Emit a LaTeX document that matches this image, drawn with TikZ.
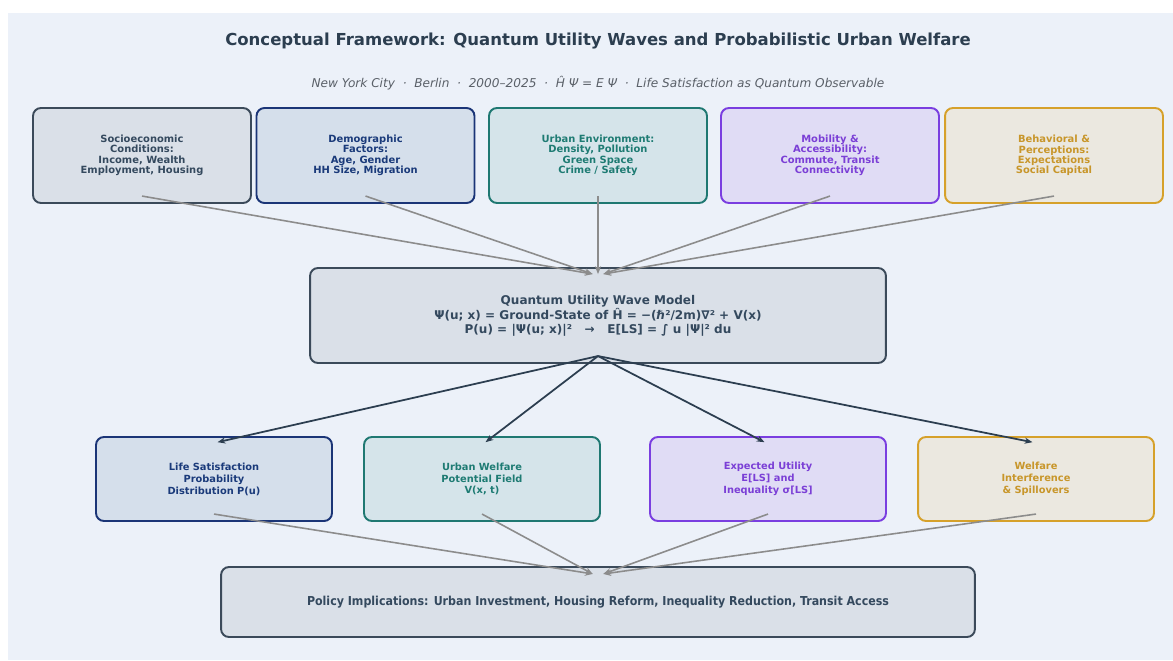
\documentclass[tikz,border=0pt]{standalone}
\usepackage{fontspec}
\setmainfont{DejaVu Sans}
\newfontfamily\condfont{DejaVu Sans Condensed}
\usetikzlibrary{arrows.meta,positioning}
\definecolor{bgblue}{HTML}{ECF1F9}
\definecolor{titlecol}{HTML}{2C3E50}
\definecolor{subcol}{HTML}{5A6068}
\definecolor{slateline}{HTML}{3B4A5A}
\definecolor{slatefill}{HTML}{DAE0E8}
\definecolor{slatetext}{HTML}{34495E}
\definecolor{navyline}{HTML}{1B3577}
\definecolor{navyfill}{HTML}{D5DFEB}
\definecolor{navytext}{HTML}{1A3A7A}
\definecolor{tealline}{HTML}{1F7872}
\definecolor{tealfill}{HTML}{D5E4EA}
\definecolor{tealtext}{HTML}{1E7B73}
\definecolor{purpline}{HTML}{7A3EE0}
\definecolor{purpfill}{HTML}{E0DCF5}
\definecolor{purptext}{HTML}{7B3FD6}
\definecolor{goldline}{HTML}{D6A12B}
\definecolor{goldfill}{HTML}{EBE8E0}
\definecolor{goldtext}{HTML}{C8962A}
\definecolor{flowgray}{HTML}{8C8C8C}
\definecolor{flowdark}{HTML}{2C3E50}
\tikzset{%
    factor/.style n args={3}{%
        rectangle, rounded corners=4.5pt, draw=#1, fill=#2, text=#3, line width=1.1pt,
        minimum width=4.36cm, minimum height=1.9cm, align=center,
        font=\bfseries\fontsize{5.65}{5.95}\selectfont
    },
    outcome/.style n args={3}{%
        factor={#1}{#2}{#3}, minimum width=4.72cm, minimum height=1.68cm,
        font=\bfseries\fontsize{5.6}{6.8}\selectfont
    },
    model/.style={%
        rectangle, rounded corners=4.5pt, draw=slateline, fill=slatefill, text=slatetext, line width=1.1pt,
        minimum width=11.52cm, minimum height=1.9cm, align=center,
        font=\bfseries\fontsize{6.85}{7.6}\selectfont
    },
    policy/.style={%
        rectangle, rounded corners=4.5pt, draw=slateline, fill=slatefill, text=slatetext, line width=1.1pt,
        minimum width=15.08cm, minimum height=1.4cm, align=center,
        font=\condfont\bfseries\fontsize{7}{8}\selectfont
    },
    inflow/.style={%
        draw=flowgray, line width=0.9pt, -{Stealth[length=4.5pt,width=3.5pt]}
    },
    outflow/.style={%
        draw=flowdark, line width=1pt, -{Stealth[length=4.5pt,width=3.5pt]}
    },
}
\begin{document}
\begin{tikzpicture}[x=0.02cm,y=-0.02cm]
    \useasboundingbox (0,0) rectangle (1173,660);
    \fill[bgblue] (8,13) rectangle (1173,660);

    % title
    \node[text=titlecol, font=\bfseries\fontsize{9.4}{11}\selectfont] (title) at (598,41)
        {Conceptual Framework: Quantum Utility Waves and Probabilistic Urban Welfare};
    \node[text=subcol, font=\itshape\fontsize{6.9}{8}\selectfont] (subtitle) at (598,83)
        {New York City \ · \ Berlin \ · \ 2000–2025 \ · \ Ĥ Ψ = E Ψ \ · \ Life Satisfaction as Quantum Observable};

    % drivers
    \node[factor={slateline}{slatefill}{slatetext}] (socio) at (142,155.5)
        {Socioeconomic\\Conditions:\\Income, Wealth\\Employment, Housing};
    \node[factor={navyline}{navyfill}{navytext}] (demo) at (365.5,155.5)
        {Demographic\\Factors:\\Age, Gender\\HH Size, Migration};
    \node[factor={tealline}{tealfill}{tealtext}] (urbenv) at (598,155.5)
        {Urban Environment:\\Density, Pollution\\Green Space\\Crime / Safety};
    \node[factor={purpline}{purpfill}{purptext}] (mobility) at (830,155.5)
        {Mobility \&\\Accessibility:\\Commute, Transit\\Connectivity};
    \node[factor={goldline}{goldfill}{goldtext}] (behav) at (1054,155.5)
        {Behavioral \&\\Perceptions:\\Expectations\\Social Capital};

    % core model
    \node[model] (qmodel) at (598,315.5)
        {Quantum Utility Wave Model\\
         Ψ(u; x) = Ground-State of Ĥ = −(ℏ²/2m)∇² + V(x)\\
         P(u) = |Ψ(u; x)|²\ \ \ →\ \ \ E[LS] = ∫ u |Ψ|² du};

    % outcomes
    \node[outcome={navyline}{navyfill}{navytext}] (lifesat) at (214,479)
        {Life Satisfaction\\Probability\\Distribution P(u)};
    \node[outcome={tealline}{tealfill}{tealtext}] (potential) at (482,479)
        {Urban Welfare\\Potential Field\\V(x, t)};
    \node[outcome={purpline}{purpfill}{purptext}] (expected) at (768,479)
        {Expected Utility\\E[LS] and\\Inequality σ[LS]};
    \node[outcome={goldline}{goldfill}{goldtext}] (interf) at (1036,479)
        {Welfare\\Interference\\\& Spillovers};

    % policy
    \node[policy] (policy) at (598,602)
        {Policy Implications: Urban Investment, Housing Reform, Inequality Reduction, Transit Access};

    % arrows
    \foreach \src/\dx in {socio/-3pt, demo/-3pt, urbenv/0pt, mobility/3pt, behav/3pt}
        \draw[inflow] ([yshift=4.5pt]\src.south) -- ([xshift=\dx,yshift=-4pt]qmodel.north);

    \foreach \dst/\dx in {lifesat/2pt, potential/2pt, expected/-2pt, interf/-2pt}
        \draw[outflow] ([yshift=4.5pt]qmodel.south) -- ([xshift=\dx,yshift=-3.5pt]\dst.north);

    \foreach \src/\dx in {lifesat/-3pt, potential/-3pt, expected/3pt, interf/3pt}
        \draw[inflow] ([yshift=4.5pt]\src.south) -- ([xshift=\dx,yshift=-4.5pt]policy.north);

\end{tikzpicture}
\end{document}
